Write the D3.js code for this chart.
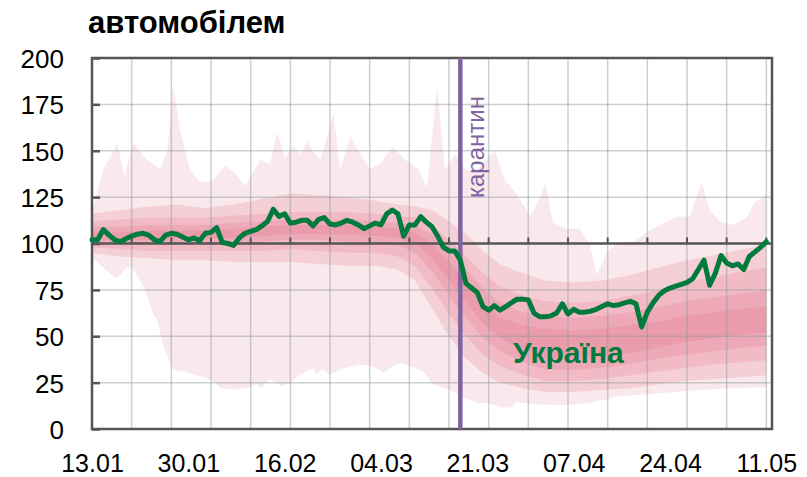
<!DOCTYPE html>
<html><head><meta charset="utf-8">
<script src="https://cdn.jsdelivr.net/npm/d3@7"></script>
<style>
html,body{margin:0;padding:0;background:#fff;}
text{font-family:"Liberation Sans",Arial,sans-serif;}
</style></head>
<body>
<svg id="chart" width="807" height="477"></svg>
<script>
// ---------- DATA ----------
const title = "автомобілем";
const seriesName = "Україна";
const quarantineLabel = "карантин";
const quarantineDay = 65;
const xTickDays = [0, 17, 34, 51, 68, 85, 102, 119];
const xTickLabels = ["13.01","30.01","16.02","04.03","21.03","07.04","24.04","11.05"];
const yTicks = [0, 25, 50, 75, 100, 125, 150, 175, 200];

// Ukraine daily index (day 0 = 13.01)
const ukraine = [102,102,107.5,104.5,102,101,102.5,104,105,105.5,
104.5,102,101,104.5,105.5,105,103.5,102,103,101.5,
105.5,106,108.5,100.5,100,99,103,105.5,106.5,107.5,
109.5,112,118.5,114.5,116,111,111.5,112.5,112.5,109.5,
113,114,110.5,110,111,112.5,111.5,110,108,109.5,
111,110,116,118,116,104,110,110,114.5,111.5,
109,104,98,96,96,91,78.5,76,73.5,66,
64,66.5,64,66,68,70,70,69.5,62.5,60.5,
60.5,61,62.5,67.5,62,64.5,63,63,63.5,64.5,
66,67.5,66.5,67,68,68.8,67.5,55,63,68,
72,74.5,76,77,78,79,81,86,91,77.5,
84,93.5,89.5,88,89,86,93,95.5,98,101];

// envelope (max) of other countries
const maxDays = [0,2,4.5,5.7,7.3,9.4,12,13.3,14.3,15.6,17.3,19.1,21.2,23.5,25.3,27,29.7,31.4,32.7,34.1,35.5,36.7,38,39,40.3,42.6,43.8,45.6,47,49,50.8,53.1,55.3,57.6,59.1,60.9,62.3,64.1,65.9,67.6,69.4,71.1,72.9,74.6,75.9,77.3,79.1,80,81.4,83.8,86.1,87.8,89.1,90.9,93.2,95.5,97.9,100.2,102.9,105.5,107.6,109,110.8,113.1,115.5,116.9,119];
const maxVals = [117,140,154,136,154,146,140,150,186,160,140,133,134,142,138,131,145,143,160,146,153,148,155,150,145,170,140,158,150,140,143,152,145,140,130,185,140,148,140,138,145,150,134,128,122,115,125,132,111,108,108,100,83,96,101,101,106,110,114,115,133,118,112,110,114,122,127];
// envelope (min)
const minDays = [0,0.6,3.8,4.5,6.2,7.3,9.1,10.8,11.5,12.6,14.3,16.1,19.1,21.4,22.6,24.9,27.4,29.2,29.7,31.4,33.6,35,36.7,38.9,39.7,40.6,42,44.3,47.3,49.6,51.4,53.1,54.4,57.9,58.4,60.2,63.2,65.5,67.9,69.7,72,73.8,75,77.3,80.8,84.3,87.4,90.9,92.6,96.7,101.5,102.5,107.3,113.1,119];
const minVals = [90,91,82,81.5,87.5,86,77,62,59,44.5,32,31,28.4,25.7,22.2,21.2,22.2,24,22,27,23,25,29.3,32.8,29.3,32.3,29.3,32.8,34.7,33.8,30.3,33.8,35.7,32,31,24,21,17,14,14,12,11.5,14.5,13.5,13,13,14,16,17.5,18.5,19.5,20,21,22,22.5];

// percentile bands
const bandDays = [0,5,10,15,20,25,30,35,40,45,50,54,57,60,63,66,69,72,76,80,85,90,95,100,105,110,115,119];
const p10 = [95,93,92,91,91,90,90,90,89,88,88,86,80,65,50,38,30,25,22,20,20,21,22,24,26,27,28,29];
const p20 = [98,97,96,96,96,96,96,97,96,95,95,93,88,76,62,50,40,34,29,26,26,27,29,31,33,35,36,37];
const p30 = [100,100,100,100,100,100,101,102,102,101,101,99,95,85,72,60,49,42,36,32,32,33,35,38,40,42,44,45];
const p40 = [102,102,102,103,103,103,104,105,105,105,104,103,100,92,80,68,57,49,43,38,38,39,41,44,47,49,51,52];
const p60 = [106,106,107,107,107,108,109,110,110,110,109,108,106,100,90,79,68,60,56,54,53,54,56,58,61,63,65,66];
const p70 = [109,109,110,110,110,111,112,113,113,113,112,111,110,105,96,86,76,68,63,61,60,61,63,66,69,71,73,75];
const p80 = [112,113,114,114,114,115,116,117,117,117,116,115,114,110,102,93,84,77,72,69,68,69,72,75,79,82,85,87];
const p90 = [116,118,120,121,119,121,124,127,126,125,123,121,120,118,112,105,96,89,84,80,79,80,83,87,91,94,97,99];

// ---------- CHART ----------
const svg = d3.select("#chart");
const x = d3.scaleLinear().domain([0, 120]).range([92, 772]);
const y = d3.scaleLinear().domain([0, 200]).range([429, 58]);
const band = "#e06a82";

// outer envelope polygon
const outerPts = maxDays.map((d,i)=>[d,maxVals[i]])
  .concat(minDays.map((d,i)=>[d,minVals[i]]).reverse());
svg.append("path")
  .attr("d", d3.line().x(p=>x(p[0])).y(p=>y(p[1]))(outerPts) + "Z")
  .attr("fill", band).attr("fill-opacity", 0.15);

const pairs = [[p10,p90],[p20,p80],[p30,p70],[p40,p60]];
pairs.forEach(([lo,hi])=>{
  const area = d3.area().x((d,i)=>x(bandDays[i])).y0((d,i)=>y(lo[i])).y1((d,i)=>y(hi[i]));
  svg.append("path").attr("d", area(bandDays)).attr("fill", band).attr("fill-opacity", 0.2);
});

// grid
const grid = svg.append("g").attr("stroke", "rgb(140,150,158)").attr("stroke-opacity", 0.45).attr("stroke-width", 1.5);
d3.range(7, 120, 7).forEach(d=>{
  grid.append("line").attr("x1", x(d)).attr("x2", x(d)).attr("y1", y(200)).attr("y2", y(0));
});
yTicks.filter(v=>v!==0 && v!==200 && v!==100).forEach(v=>{
  grid.append("line").attr("x1", x(0)).attr("x2", x(120)).attr("y1", y(v)).attr("y2", y(v));
});

// frame
const axisColor = "#555";
svg.append("rect").attr("x", x(0)).attr("y", y(200)).attr("width", x(120)-x(0)).attr("height", y(0)-y(200))
  .attr("fill","none").attr("stroke", axisColor).attr("stroke-width", 2.5);

// left axis ticks
const yAxis = d3.axisLeft(y).tickValues(yTicks).tickSize(-8).tickPadding(30);
const gy = svg.append("g").attr("transform", `translate(${x(0)},0)`).call(yAxis);
gy.select(".domain").remove();
gy.selectAll(".tick line").attr("stroke", axisColor).attr("stroke-width", 2.5);
gy.selectAll(".tick text").attr("font-size", 26).attr("fill", "#000")
  .attr("font-family", "Liberation Sans, Arial, sans-serif").attr("x", -28).attr("dy", "0.36em");

// x labels
const xAxis = d3.axisBottom(x).tickValues(xTickDays).tickFormat((d,i)=>xTickLabels[i]).tickSize(0).tickPadding(25);
const gx = svg.append("g").attr("transform", `translate(0,${y(0)})`).call(xAxis);
gx.select(".domain").remove();
gx.selectAll(".tick text").attr("font-size", 25).attr("fill", "#000")
  .attr("font-family", "Liberation Sans, Arial, sans-serif");

// 100 baseline with weekly ticks
svg.append("line").attr("x1", x(0)).attr("x2", x(120)).attr("y1", y(100)).attr("y2", y(100))
  .attr("stroke", axisColor).attr("stroke-width", 2.5);
d3.range(7, 120, 7).forEach(d=>{
  svg.append("line").attr("x1", x(d)).attr("x2", x(d)).attr("y1", y(100)).attr("y2", y(100)-6)
    .attr("stroke", axisColor).attr("stroke-width", 2);
});

// quarantine line
const purple = "#8064a2";
svg.append("line").attr("x1", x(quarantineDay)).attr("x2", x(quarantineDay)).attr("y1", y(200)).attr("y2", y(0))
  .attr("stroke", purple).attr("stroke-width", 4.5);
svg.append("text").text(quarantineLabel)
  .attr("transform", `translate(${x(quarantineDay)+24},198) rotate(-90)`)
  .attr("font-size", 24).attr("fill", purple);

// Ukraine line
svg.append("path").datum(ukraine)
  .attr("d", d3.line().x((d,i)=>x(i)).y(d=>y(d)))
  .attr("fill","none").attr("stroke", "#007a3d").attr("stroke-width", 5)
  .attr("stroke-linejoin","round").attr("stroke-linecap","round");

svg.append("text").text(seriesName).attr("x", 513).attr("y", 363)
  .attr("font-size", 30).attr("font-weight", "bold").attr("fill", "#007a3d");

// title
svg.append("text").text(title).attr("x", 88).attr("y", 33)
  .attr("font-size", 31).attr("font-weight", "bold").attr("fill", "#000");
</script>
</body></html>
